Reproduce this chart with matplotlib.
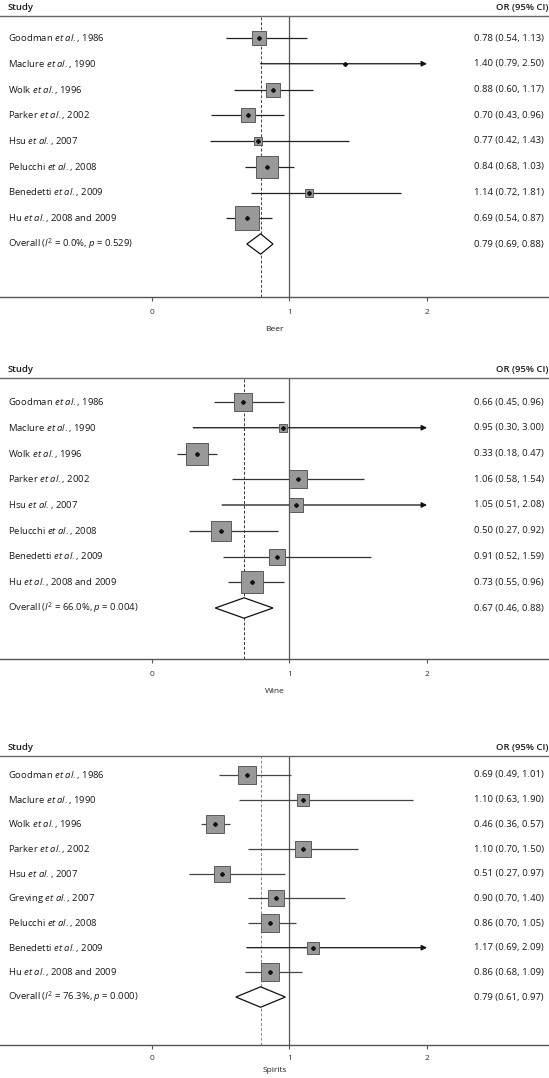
import numpy as np
import matplotlib
matplotlib.use('Agg')
import matplotlib.pyplot as plt
from matplotlib.patches import Polygon

plt.rcParams['font.family'] = ['Open Sans', 'DejaVu Sans']
plt.rcParams['mathtext.fontset'] = 'custom'
plt.rcParams['mathtext.rm'] = 'Open Sans'
plt.rcParams['mathtext.it'] = 'Open Sans:italic'

# ---- data ----
beer_authors = ['Goodman', 'Maclure', 'Wolk', 'Parker', 'Hsu', 'Pelucchi', 'Benedetti', 'Hu']
beer_years = ['1986', '1990', '1996', '2002', '2007', '2008', '2009', '2008 and 2009']
beer_or = [0.78, 1.40, 0.88, 0.70, 0.77, 0.84, 1.14, 0.69]
beer_lo = [0.54, 0.79, 0.60, 0.43, 0.42, 0.68, 0.72, 0.54]
beer_hi = [1.13, 2.50, 1.17, 0.96, 1.43, 1.03, 1.81, 0.87]
beer_w = [12.0, 0.2, 12.0, 11.3, 3.5, 27.5, 3.5, 30.0]
beer_overall = (0.79, 0.69, 0.88)
beer_i2, beer_p = '0.0', '0.529'

wine_authors = ['Goodman', 'Maclure', 'Wolk', 'Parker', 'Hsu', 'Pelucchi', 'Benedetti', 'Hu']
wine_years = ['1986', '1990', '1996', '2002', '2007', '2008', '2009', '2008 and 2009']
wine_or = [0.66, 0.95, 0.33, 1.06, 1.05, 0.50, 0.91, 0.73]
wine_lo = [0.45, 0.30, 0.18, 0.58, 0.51, 0.27, 0.52, 0.55]
wine_hi = [0.96, 3.00, 0.47, 1.54, 2.08, 0.92, 1.59, 0.96]
wine_w = [13.0, 2.7, 20.1, 12.4, 7.8, 15.5, 9.7, 18.9]
wine_overall = (0.67, 0.46, 0.88)
wine_i2, wine_p = '66.0', '0.004'

spirits_authors = ['Goodman', 'Maclure', 'Wolk', 'Parker', 'Hsu', 'Greving', 'Pelucchi', 'Benedetti', 'Hu']
spirits_years = ['1986', '1990', '1996', '2002', '2007', '2007', '2008', '2009', '2008 and 2009']
spirits_or = [0.69, 1.10, 0.46, 1.10, 0.51, 0.90, 0.86, 1.17, 0.86]
spirits_lo = [0.49, 0.63, 0.36, 0.70, 0.27, 0.70, 0.70, 0.69, 0.68]
spirits_hi = [1.01, 1.90, 0.57, 1.50, 0.97, 1.40, 1.05, 2.09, 1.09]
spirits_w = [13.9, 5.7, 14.8, 10.4, 10.4, 10.9, 14.3, 5.4, 14.3]
spirits_overall = (0.79, 0.61, 0.97)
spirits_i2, spirits_p = '76.3', '0.000'

xticks = [0, 1, 2]

# ---- layout (pixels in a 549x1078 canvas) ----
W, H = 549, 1078
XMIN, XMAX = -1.105, 2.887
CLIP = 2.0

# top line, first row, row spacing, axis line, box scale, ci color, dash color, tick pad, label pad
panels = [
  ('Beer', beer_authors, beer_years, beer_or, beer_lo, beer_hi, beer_w, beer_overall, beer_i2, beer_p,
   16, 38, 25.75, 297, 4.25, '#222222', '#444444', 6, 7),
  ('Wine', wine_authors, wine_years, wine_or, wine_lo, wine_hi, wine_w, wine_overall, wine_i2, wine_p,
   378, 402, 25.75, 659, 4.9, '#333333', '#333333', 6, 7),
  ('Spirits', spirits_authors, spirits_years, spirits_or, spirits_lo, spirits_hi, spirits_w, spirits_overall, spirits_i2, spirits_p,
   756, 775, 24.67, 1045, 4.75, '#444444', '#888888', 4, 4),
]

fig = plt.figure(figsize=(W / 100, H / 100), dpi=100)
txt_col = '#1a1a1a'
fs = 6.8

for (name, authors, years, est, lo, hi, w, overall, i2, p,
     top_px, row0_px, step_px, axis_px, bscale, ci_col, dash_col, tpad, lpad) in panels:
  ax = fig.add_axes([0, 1 - axis_px / H, 1, (axis_px - top_px) / H])
  ax.set_xlim(XMIN, XMAX)
  ybot = (axis_px - row0_px) / step_px + 1
  ytop = (top_px - row0_px) / step_px + 1
  ax.set_ylim(ybot, ytop)

  for s in ['left', 'right']:
    ax.spines[s].set_visible(False)
  ax.spines['top'].set_color('#666666')
  ax.spines['bottom'].set_color('#555555')
  ax.spines['top'].set_linewidth(1.0)
  ax.spines['bottom'].set_linewidth(1.0)
  ax.set_yticks([])
  ax.set_xticks(xticks)
  ax.set_xticklabels([str(t) for t in xticks])
  ax.tick_params(axis='x', length=3, width=0.8, color='#555555', pad=tpad, labelsize=6.0, labelcolor='#333333')
  ax.set_xlabel(name, fontsize=6.0, color='#222222', labelpad=lpad)

  ax.axvline(1, color='#555555', lw=0.9, zorder=1)
  ax.axvline(overall[0], color=dash_col, lw=0.7, ls=(0, (3, 2)), zorder=1)

  n = len(est)
  rows = np.arange(1, n + 1)
  ytr = ax.get_yaxis_transform(which='grid')
  for i in range(n):
    y = rows[i]
    right = min(hi[i], CLIP)
    if hi[i] > CLIP:
      ax.annotate('', xy=(CLIP, y), xytext=(lo[i], y),
                  arrowprops=dict(arrowstyle='-|>', color='#111111', lw=0.9,
                                  mutation_scale=8, shrinkA=0, shrinkB=0), zorder=2)
    else:
      ax.plot([lo[i], right], [y, y], color=ci_col, lw=0.9, zorder=2, solid_capstyle='butt')
    ax.plot(est[i], y, marker='s', ms=bscale * np.sqrt(w[i]) * 0.72,
            mfc='#999999', mec='#5a5a5a', mew=0.7, zorder=3, ls='none')
    ax.plot(est[i], y, marker='D', ms=2.0, color='#111111', zorder=4, ls='none')

    label = f'{authors[i]} $et$ $al.$, {years[i]}'
    ax.text(8 / W, y, label, transform=ytr, ha='left', va='center', fontsize=fs, color=txt_col)
    ax.text(544 / W, y, f'{est[i]:.2f} ({lo[i]:.2f}, {hi[i]:.2f})', transform=ytr,
            ha='right', va='center', fontsize=fs, color=txt_col)

  # pooled diamond
  yo = n + 1
  hh = 10.2 / step_px
  dia = Polygon([[overall[1], yo], [overall[0], yo - hh], [overall[2], yo], [overall[0], yo + hh]],
                closed=True, facecolor='white', edgecolor='#111111', lw=0.9, zorder=3)
  ax.add_patch(dia)
  ax.text(8 / W, yo, f'Overall ($I^2$ = {i2}%, $p$ = {p})', transform=ytr,
          ha='left', va='center', fontsize=fs, color=txt_col)
  ax.text(544 / W, yo, f'{overall[0]:.2f} ({overall[1]:.2f}, {overall[2]:.2f})', transform=ytr,
          ha='right', va='center', fontsize=fs, color=txt_col)

  # headers
  ax.annotate('Study', xy=(8 / W, 1), xycoords='axes fraction', xytext=(0, 3),
              textcoords='offset points', ha='left', va='bottom',
              fontsize=fs, fontweight='semibold', color=txt_col)
  ax.annotate('OR (95% CI)', xy=(548 / W, 1), xycoords='axes fraction', xytext=(0, 3),
              textcoords='offset points', ha='right', va='bottom',
              fontsize=fs, fontweight='semibold', color=txt_col)

fig.savefig('out.png', dpi=100)
